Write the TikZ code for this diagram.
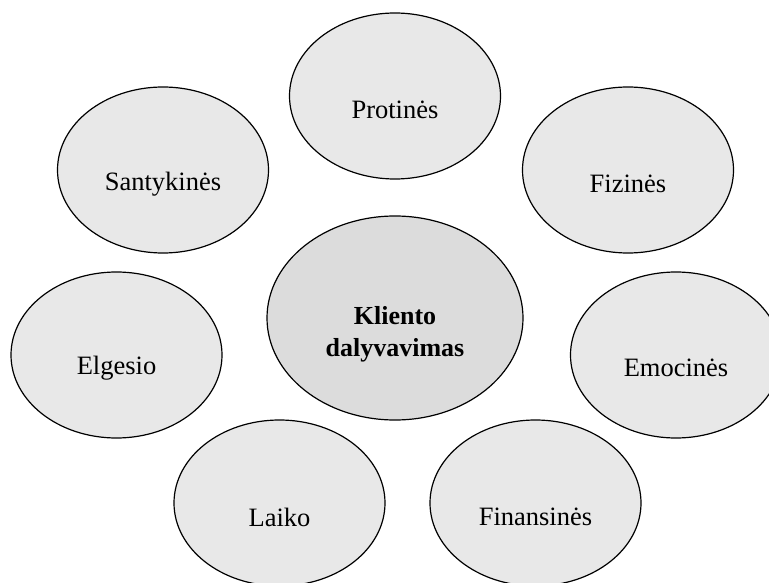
\documentclass[tikz,border=0pt]{standalone}
\usepackage{fontspec}
\setmainfont{Liberation Serif}
\usetikzlibrary{shapes.geometric}
\definecolor{outerfill}{RGB}{232,232,232}
\definecolor{centerfill}{RGB}{220,220,220}
\tikzset{
  bubble/.style={ellipse, draw=black, line width=1.2pt, fill=outerfill,
    minimum width=211pt, minimum height=166pt, inner sep=0pt},
  hub/.style={bubble, fill=centerfill, minimum width=256pt, minimum height=204pt},
  lbl/.style={font=\fontsize{26.5}{31}\selectfont, inner sep=0pt, align=center},
  hublbl/.style={lbl, font=\fontsize{26}{32}\selectfont\bfseries}
}
\begin{document}
\begin{tikzpicture}[x=1pt,y=-1pt]
\useasboundingbox (0,0) rectangle (769,583);
\clip (0,0) rectangle (769,583);
\node[bubble] (prot) at (395,96) {};
\node[bubble] (sant) at (163,170) {};
\node[bubble] (fiz) at (628,170) {};
\node[hub] (klient) at (395,318) {};
\node[bubble] (elg) at (116.5,355) {};
\node[bubble] (emo) at (676,355) {};
\node[bubble] (laik) at (279.5,503) {};
\node[bubble] (fin) at (535.5,503) {};
\node[lbl] (protT) at ([yshift=-14pt]prot.center) {Protinės};
\node[lbl] (santT) at ([yshift=-14pt]sant.center) {Santykinės};
\node[lbl] (fizT) at ([yshift=-14pt]fiz.center) {Fizinės};
\node[hublbl] (klientT) at ([yshift=-16pt]klient.center) {Kliento\\dalyvavimas};
\node[lbl] (elgT) at ([yshift=-13pt]elg.center) {Elgesio};
\node[lbl] (emoT) at ([yshift=-13pt]emo.center) {Emocinės};
\node[lbl] (laikT) at ([yshift=-14pt]laik.center) {Laiko};
\node[lbl] (finT) at ([yshift=-14pt]fin.center) {Finansinės};
\end{tikzpicture}
\end{document}
